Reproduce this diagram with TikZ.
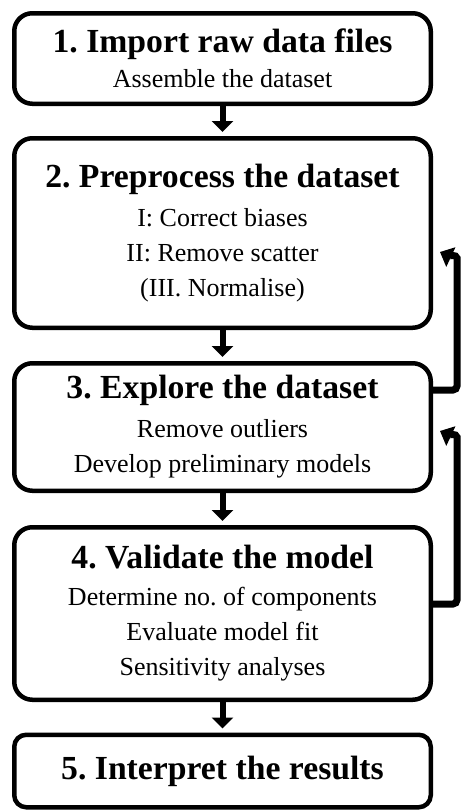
\documentclass[tikz,border=0pt]{standalone}
\usepackage{fontspec}
\setmainfont{Liberation Serif}
\usetikzlibrary{arrows.meta}
\frenchspacing
\newcommand\boxtitle[1]{{\fontsize{33.7}{35}\selectfont\bfseries #1}}
\begin{document}
\begin{tikzpicture}[x=1pt,y=1pt,
  stagebox/.style={draw, line width=4.5pt, rounded corners=18pt, minimum width=416.5pt,
    inner sep=0pt, align=center, font=\fontsize{26}{35}\selectfont\frenchspacing},
  downarrow/.style={line width=6pt, -{Triangle[width=21pt,length=11pt]}, shorten >=4pt},
  fbarrow/.style={line width=7pt, -{Triangle[width=21pt,length=12pt]}}
]
\useasboundingbox (0,0) rectangle (462,-812);
\node[stagebox, minimum height=90.5pt] (b1) at (222.5,-58.5)
  {\boxtitle{1. Import raw data files}\\[0pt]Assemble the dataset};
\node[stagebox, minimum height=189.5pt] (b2) at (222.5,-233)
  {\boxtitle{2. Preprocess the dataset}\\[4pt]I: Correct biases\\II: Remove scatter\\(III. Normalise)};
\node[stagebox, minimum height=127.5pt] (b3) at (222.5,-427)
  {\boxtitle{3. Explore the dataset}\\[4pt]Remove outliers\\Develop preliminary models};
\node[stagebox, minimum height=172.5pt] (b4) at (222.5,-613.5)
  {\boxtitle{4. Validate the model}\\[2pt]Determine no. of components\\Evaluate model fit\\Sensitivity analyses};
\node[stagebox, minimum height=72.5pt, rounded corners=12pt] (b5) at (222.5,-771)
  {\boxtitle{5. Interpret the results}};
\draw[downarrow] (b1) -- (b2);
\draw[downarrow] (b2) -- (b3);
\draw[downarrow] (b3) -- (b4);
\draw[downarrow] (b4) -- (b5);
\coordinate (f1s) at (0,-390);
\coordinate (f1t) at (440,-252);
\coordinate (f2s) at (0,-604);
\coordinate (f2t) at (440,-431);
\draw[fbarrow, rounded corners=4pt] (b3.east |- f1s) -- (457,-390) -- (457,-262)
  to[out=90,in=-25] (f1t);
\draw[fbarrow, rounded corners=4pt] (b4.east |- f2s) -- (457,-604) -- (457,-441)
  to[out=90,in=-25] (f2t);
\end{tikzpicture}
\end{document}
